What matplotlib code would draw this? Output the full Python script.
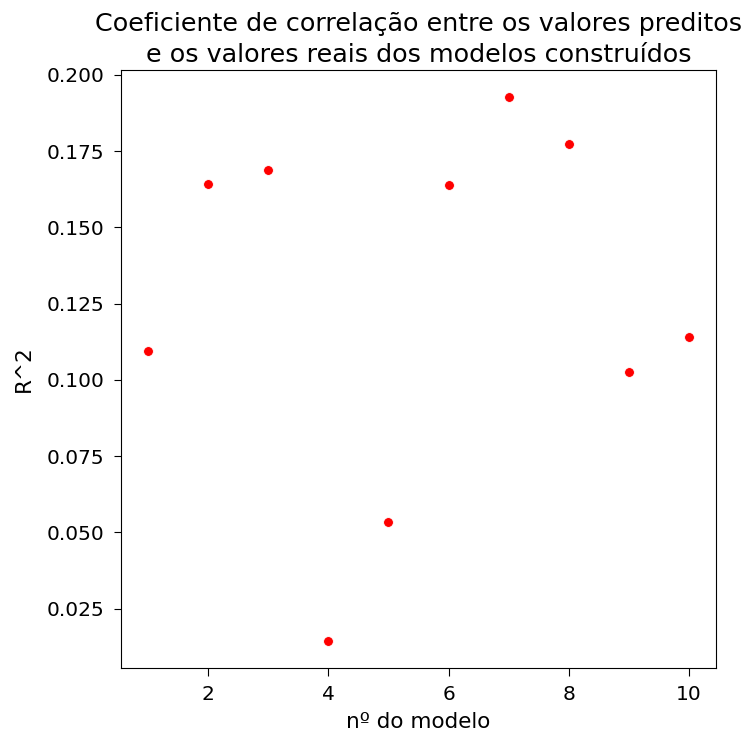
import matplotlib
matplotlib.use("Agg")
import matplotlib.pyplot as plt

modelos = [1, 2, 3, 4, 5, 6, 7, 8, 9, 10]
r2 = [0.1095, 0.1642, 0.1688, 0.0144, 0.0535, 0.1639, 0.1927, 0.1775, 0.1026, 0.1142]

fig = plt.figure(figsize=(7.49, 7.37), dpi=100)
ax = fig.add_axes([0.1615, 0.0936, 0.7945, 0.8114])
ax.scatter(modelos, r2, s=50, c='red', edgecolors='white', linewidths=0.6)
ax.set_title("Coeficiente de correlação entre os valores preditos\ne os valores reais dos modelos construídos",
             fontsize=18.3, pad=6, linespacing=1.35)
ax.set_xlabel("nº do modelo", fontsize=15.5, labelpad=6)
ax.set_ylabel("R^2", fontsize=15.5, labelpad=9)
ax.tick_params(labelsize=14.5, length=5.4, pad=6.8)
fig.savefig("out.png", dpi=100)
